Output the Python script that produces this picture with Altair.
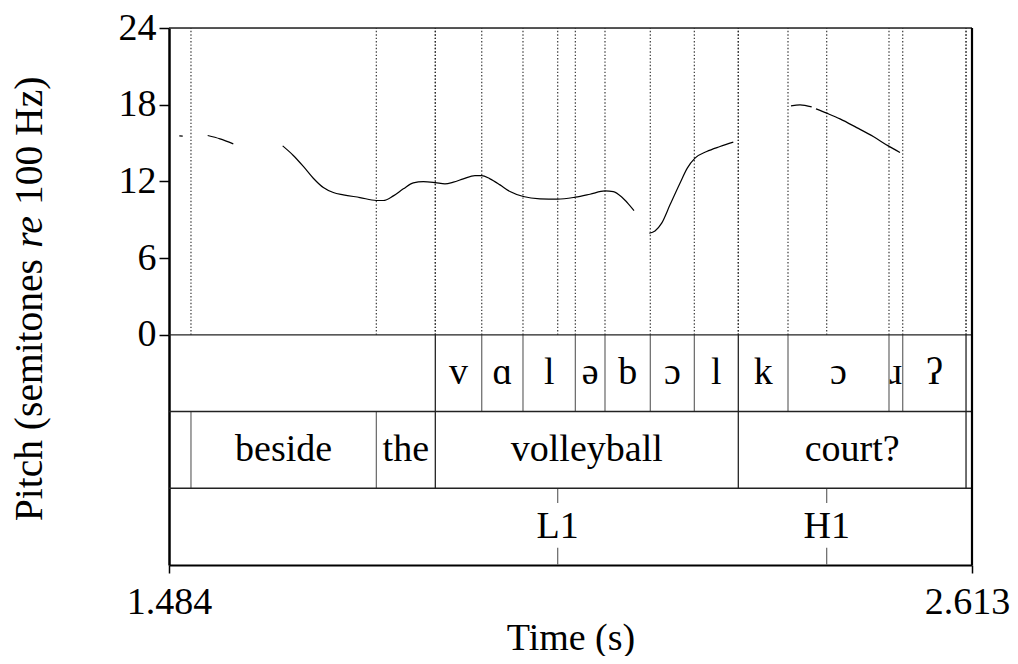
import altair as alt
import pandas as pd

FONT = "Liberation Serif"
T0, T1 = 1.484, 2.613

# ---- pitch contour (semitones re 100 Hz), voiced segments ----
pitch_seg = ["a", "a",
             "b", "b", "b",
             "c"] + ["c"] * 32 + ["d"] * 10 + ["e"] * 3 + ["f"] * 7
pitch_t = [1.4985, 1.5033,
           1.5384, 1.5557, 1.5744,
           1.6438, 1.6588, 1.6729, 1.6869, 1.7010, 1.7150, 1.7291, 1.7525,
           1.7755, 1.7853, 1.7994, 1.8135, 1.8275, 1.8416, 1.8585, 1.8720,
           1.8838, 1.8978, 1.9142, 1.9236, 1.9353, 1.9494, 1.9634, 1.9822,
           2.0056, 2.0305, 2.0553, 2.0759, 2.0970, 2.1087, 2.1205, 2.1298,
           2.1378,
           2.1593, 2.1673, 2.1767, 2.1884, 2.2024, 2.2127, 2.2235, 2.2400,
           2.2587, 2.2774,
           2.3585, 2.3712, 2.3876,
           2.3937, 2.4087, 2.4274, 2.4509, 2.4742, 2.4953, 2.5118]
pitch_st = [15.57, 15.55,
            15.59, 15.33, 14.94,
            14.78, 14.03, 13.17, 12.25, 11.52, 11.13, 10.95, 10.74,
            10.51, 10.51, 10.87, 11.42, 11.89, 11.99, 11.91, 11.81,
            11.94, 12.20, 12.46, 12.46, 12.20, 11.73, 11.21, 10.82,
            10.64, 10.61, 10.77, 11.00, 11.26, 11.20, 10.78, 10.25,
            9.72,
            7.95, 8.13, 8.74, 10.17, 11.86, 13.04, 13.82, 14.34,
            14.73, 15.07,
            17.91, 17.99, 17.83,
            17.68, 17.34, 16.89, 16.21, 15.51, 14.78, 14.26]

# ---- TextGrid tiers ----
phone_labels = ["", "v", "ɑ", "l", "ə", "b", "ɔ", "l", "k", "ɔ", "ɹ", "ʔ", ""]
phone_bounds = [1.484, 1.8584, 1.9237, 1.9817, 2.0553, 2.0970, 2.1607, 2.2226,
                2.2844, 2.3543, 2.4963, 2.5156, 2.6046, 2.613]
word_labels = ["", "beside", "the", "volleyball", "court?", ""]
word_bounds = [1.484, 1.5149, 1.7755, 1.8584, 2.2844, 2.6046, 2.613]
tone_labels = ["L1", "H1"]
tone_times = [2.0305, 2.4087]

y_ticks = [0, 6, 12, 18, 24]
x_ticks = [T0, T1]

# tier vertical extents in y-units (pitch panel is 0..24)
TIER1 = (-6, 0)
TIER2 = (-12, -6)
TIER3 = (-18, -12)

xscale = alt.Scale(domain=[T0, T1], nice=False, zero=False)
yscale = alt.Scale(domain=[-18, 24], nice=False, zero=False)
xaxis = alt.Axis(values=x_ticks, format=".3f", tickSize=8, tickWidth=1.5,
                 tickColor="black", labelFlush=False, labelPadding=10,
                 labelOffset={"condition": {"test": "datum.value > 2", "value": -5},
                              "value": 0},
                 labelFontSize=38, labelFont=FONT, labelColor="black",
                 domainColor="black", domainWidth=2, grid=False,
                 title="Time (s)", titleFontSize=38, titleFont=FONT,
                 titleFontWeight="normal", titleColor="black",
                 titleBaseline="alphabetic", titleY=84, titleX=401.5)
yaxis = alt.Axis(values=y_ticks, tickSize=10, tickWidth=1.5, tickColor="black",
                 labelPadding=3, labelFontSize=38, labelFont=FONT,
                 labelColor="black", domainColor="black", domainWidth=2.5,
                 grid=False, title=None)


def X(f):
    return alt.X(f, type="quantitative", scale=xscale, axis=xaxis)


def Y(f):
    return alt.Y(f, type="quantitative", scale=yscale, axis=yaxis)


# ---- data frames ----
pitch_df = pd.DataFrame({"t": pitch_t, "st": pitch_st, "seg": pitch_seg})

lab_rows = []
for lab, a, b in zip(phone_labels, phone_bounds[:-1], phone_bounds[1:]):
    if lab:
        lab_rows.append({"x": (a + b) / 2, "y": sum(TIER1) / 2, "label": lab})
for lab, a, b in zip(word_labels, word_bounds[:-1], word_bounds[1:]):
    if lab:
        lab_rows.append({"x": (a + b) / 2, "y": sum(TIER2) / 2, "label": lab})
for lab, t in zip(tone_labels, tone_times):
    lab_rows.append({"x": t, "y": sum(TIER3) / 2, "label": lab})
lab_df = pd.DataFrame(lab_rows)

p_inner = phone_bounds[1:-1]
w_inner = word_bounds[1:-1]
shared = set(p_inner) & set(w_inner)
b_rows = []
for t in p_inner:
    b_rows.append({"x": t, "y": TIER1[0], "y2": TIER1[1],
                   "c": "#111" if t in shared else "#666"})
for t in w_inner:
    b_rows.append({"x": t, "y": TIER2[0], "y2": TIER2[1],
                   "c": "#111" if t in shared else "#666"})
for t in tone_times:
    b_rows.append({"x": t, "y": TIER3[1], "y2": TIER3[1] - 1.16, "c": "#666"})
    b_rows.append({"x": t, "y": TIER3[0] + 1.34, "y2": TIER3[0], "c": "#666"})
bound_df = pd.DataFrame(b_rows)

dot_df = pd.DataFrame({"x": p_inner + w_inner + tone_times})
dot_df["y"] = 0
dot_df["y2"] = 24

hl_df = pd.DataFrame({"x": [T0] * 4, "x2": [T1] * 4, "y": [24, 0, -6, -12],
                      "w": [1.6, 1.4, 1.6, 1.6]})
vr_df = pd.DataFrame({"x": [T1], "y": [-18], "y2": [24]})

# ---- layers ----
dots = alt.Chart(dot_df).mark_rule(color="#222", strokeWidth=1.2,
                                   strokeDash=[1.4, 2], opacity=0.9).encode(
    x=X("x"), y=Y("y"), y2=alt.Y2("y2"))

bounds = alt.Chart(bound_df).mark_rule(strokeWidth=1.2).encode(
    x=X("x"), y=Y("y"), y2=alt.Y2("y2"),
    color=alt.Color("c:N", scale=None, legend=None))

hlines = alt.Chart(hl_df).mark_rule(color="#222").encode(
    x=X("x"), x2=alt.X2("x2"), y=Y("y"),
    strokeWidth=alt.StrokeWidth("w:Q", scale=None, legend=None))

vline = alt.Chart(vr_df).mark_rule(color="black", strokeWidth=2.2).encode(
    x=X("x"), y=Y("y"), y2=alt.Y2("y2"))

pitch = alt.Chart(pitch_df).mark_line(color="black", strokeWidth=1.2,
                                      interpolate="monotone").encode(
    x=X("t"), y=Y("st"), detail="seg:N")

labels = alt.Chart(lab_df).mark_text(font=FONT, fontSize=38, baseline="middle",
                                     align="center", color="black").encode(
    x=X("x"), y=Y("y"), text="label:N")

# rotated y title with italic "re"
TX = -127
RC = 204
GAP = 27
TFS = 39.5
t1 = alt.Chart(pd.DataFrame({"s": ["Pitch (semitones"]})).mark_text(
    font=FONT, fontSize=TFS, angle=270, align="right", baseline="alphabetic",
    color="black").encode(x=alt.value(TX), y=alt.value(RC + GAP), text="s:N")
t2 = alt.Chart(pd.DataFrame({"s": ["re"]})).mark_text(
    font=FONT, fontSize=TFS, fontStyle="italic", angle=270, align="center",
    baseline="alphabetic", color="black").encode(
    x=alt.value(TX), y=alt.value(RC), text="s:N")
t3 = alt.Chart(pd.DataFrame({"s": ["100 Hz)"]})).mark_text(
    font=FONT, fontSize=TFS, angle=270, align="left", baseline="alphabetic",
    color="black").encode(x=alt.value(TX), y=alt.value(RC - GAP), text="s:N")

chart = alt.layer(dots, bounds, hlines, vline, pitch, labels, t1, t2, t3).properties(
    width=803, height=537,
    padding={"left": 161, "top": 20, "right": 38, "bottom": 91},
    autosize=alt.AutoSizeParams(type="none"),
).configure_view(strokeWidth=0).configure(background="white")

chart.save("out.html", embed_options={"renderer": "svg", "actions": False})
